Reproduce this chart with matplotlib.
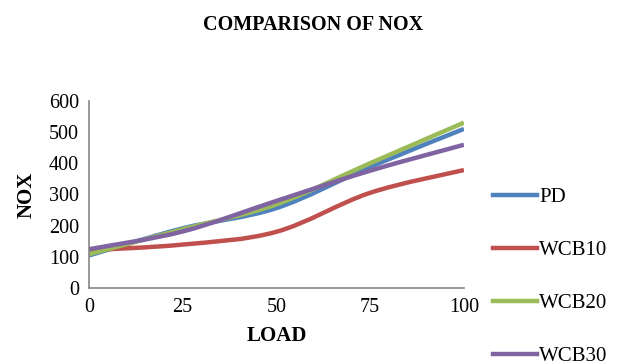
import matplotlib.pyplot as plt
from matplotlib.path import Path
from matplotlib.patches import PathPatch
from matplotlib.lines import Line2D

load = [0, 25, 50, 75, 100]
series = ["PD", "WCB10", "WCB20", "WCB30"]
pd_nox = [104, 191, 256, 388, 510]
wcb10_nox = [121, 139, 180, 305, 378]
wcb20_nox = [108, 188, 268, 400, 530]
wcb30_nox = [124, 181, 279, 376, 459]
colors = ["#4F81BD", "#C0504D", "#9BBB59", "#8064A2"]

plt.rcParams['font.family'] = ['Liberation Serif', 'DejaVu Serif']


def smooth_path(x, y, t=1 / 6):
    # Excel-like smoothed line: cubic bezier segments with catmull-rom tangents
    verts = [(x[0], y[0])]
    codes = [Path.MOVETO]
    n = len(x)
    for i in range(n - 1):
        x0, y0 = (x[i - 1], y[i - 1]) if i > 0 else (x[i], y[i])
        x3, y3 = (x[i + 2], y[i + 2]) if i + 2 < n else (x[i + 1], y[i + 1])
        c1 = (x[i] + (x[i + 1] - x0) * t, y[i] + (y[i + 1] - y0) * t)
        c2 = (x[i + 1] - (x3 - x[i]) * t, y[i + 1] - (y3 - y[i]) * t)
        verts += [c1, c2, (x[i + 1], y[i + 1])]
        codes += [Path.CURVE4] * 3
    return Path(verts, codes)


fig = plt.figure(figsize=(6.39, 3.64), dpi=100)
ax = fig.add_axes([0.139, 0.209, 0.587, 0.514])

handles = []
for name, vals, c in zip(series, [pd_nox, wcb10_nox, wcb20_nox, wcb30_nox], colors):
    ax.add_patch(PathPatch(smooth_path(load, vals), facecolor="none", edgecolor=c,
                           lw=3.2, capstyle="butt"))
    handles.append(Line2D([], [], color=c, lw=3.2, label=name))

ax.set_xlim(0, 100)
ax.set_ylim(0, 600)
ax.set_xticks(load)
ax.set_yticks(range(0, 601, 100))
ax.tick_params(length=0, labelsize=14.5, pad=7)
for s in ["top", "right"]:
    ax.spines[s].set_visible(False)
for s in ["left", "bottom"]:
    ax.spines[s].set_color("#868686")
    ax.spines[s].set_linewidth(1.2)

ax.set_xlabel("LOAD", fontsize=15, fontweight="bold", labelpad=7)
ax.set_ylabel("NOX", fontsize=15, fontweight="bold", labelpad=9)
fig.text(0.49, 0.93, "COMPARISON OF NOX", ha="center", va="center",
         fontsize=14.5, fontweight="bold")

fig.legend(handles=handles, loc="upper left", bbox_to_anchor=(0.772, 0.485),
           frameon=False, fontsize=15, handlelength=2.1, handletextpad=0.1,
           labelspacing=1.6, borderpad=0, borderaxespad=0)

plt.savefig("out.png", dpi=100)
